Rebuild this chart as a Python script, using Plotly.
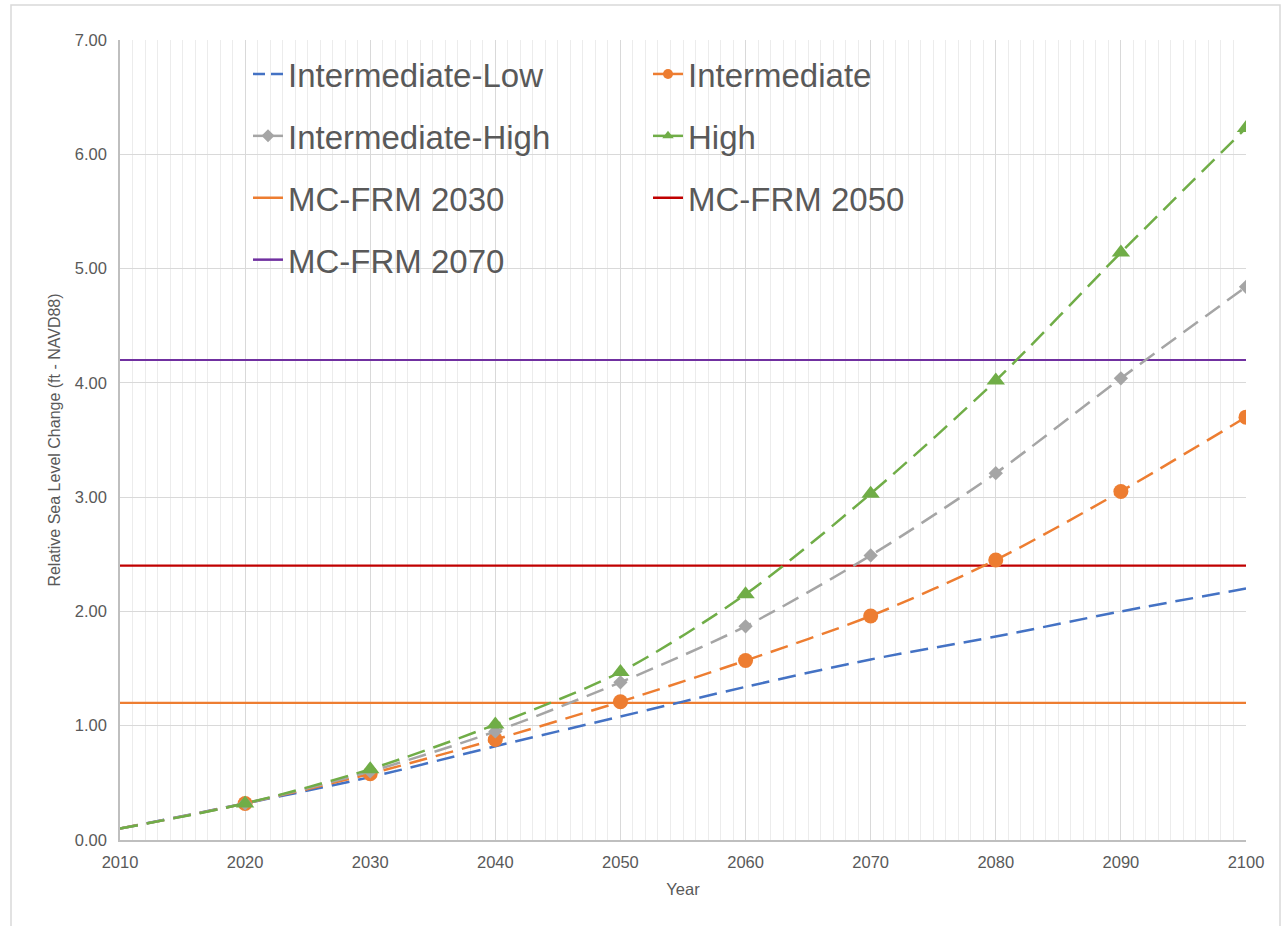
import plotly.graph_objects as go

years = [2010, 2020, 2030, 2040, 2050, 2060, 2070, 2080, 2090, 2100]
int_low = [0.10, 0.32, 0.55, 0.82, 1.08, 1.34, 1.58, 1.78, 2.00, 2.20]
intermediate = [0.10, 0.32, 0.58, 0.88, 1.21, 1.57, 1.96, 2.45, 3.05, 3.70]
int_high = [0.10, 0.32, 0.60, 0.95, 1.38, 1.87, 2.49, 3.21, 4.04, 4.84]
high = [0.10, 0.32, 0.62, 1.01, 1.47, 2.15, 3.03, 4.02, 5.14, 6.23]

mc_names = ["MC-FRM 2030", "MC-FRM 2050", "MC-FRM 2070"]
mc_levels = [1.2, 2.4, 4.2]
mc_span = [2010, 2100]

BLUE = "#4472C4"
ORANGE = "#ED7D31"
GRAY = "#A5A5A5"
GREEN = "#70AD47"
RED = "#C00000"
PURPLE = "#7030A0"
FONT = "Liberation Sans, Arial, sans-serif"
TXT = "#595959"
DASH = "18px,9px"

W, H = 1283, 926
L, R, T, B = 120, 37, 40, 86
PW, PH = W - L - R, H - T - B


def px_x(p):
    return (p - L) / PW


def px_y(p):
    return (H - B - p) / PH


fig = go.Figure()

# horizontal reference levels
mc_colors = [ORANGE, RED, PURPLE]
for name, lvl, col in zip(mc_names, mc_levels, mc_colors):
    fig.add_trace(go.Scatter(x=mc_span, y=[lvl, lvl], mode="lines",
                             line=dict(color=col, width=2.2),
                             showlegend=False, hoverinfo="skip"))


def msizes(s):
    return [0] + [s] * (len(years) - 1)


series = [
    ("Intermediate-Low", int_low, BLUE, None, 0),
    ("Intermediate", intermediate, ORANGE, "circle", 15),
    ("Intermediate-High", int_high, GRAY, "diamond", 11),
    ("High", high, GREEN, "triangle-up", 16),
]
for name, vals, col, sym, sz in series:
    if sym is None:
        fig.add_trace(go.Scatter(x=years, y=vals, mode="lines", name=name,
                                 line=dict(color=col, width=2.5, dash=DASH, shape="spline", smoothing=0.8),
                                 showlegend=False))
    else:
        fig.add_trace(go.Scatter(x=years, y=vals, mode="lines+markers", name=name,
                                 line=dict(color=col, width=2.5, dash=DASH, shape="spline", smoothing=0.8),
                                 marker=dict(symbol=sym, size=msizes(sz), color=col, opacity=1,
                                             line=dict(width=0)),
                                 showlegend=False))

# legend entries (two columns)
col1 = [("Intermediate-Low", BLUE, None, "dash"),
        ("Intermediate-High", GRAY, "diamond", "solid"),
        ("MC-FRM 2030", ORANGE, None, "solid"),
        ("MC-FRM 2070", PURPLE, None, "solid")]
col2 = [("Intermediate", ORANGE, "circle", "solid"),
        ("High", GREEN, "triangle-up", "solid"),
        ("MC-FRM 2050", RED, None, "solid")]
for lg, entries in (("legend", col1), ("legend2", col2)):
    for i, (name, col, sym, dash) in enumerate(entries):
        kw = dict(x=[None], y=[None], name=name, legend=lg, legendgroup=f"{lg}_{i}",
                  line=dict(color=col, width=2.5, dash=("12px,6px" if dash == "dash" else "solid")))
        if sym:
            fig.add_trace(go.Scatter(mode="lines+markers", marker=dict(symbol=sym, size=10, color=col), **kw))
        else:
            fig.add_trace(go.Scatter(mode="lines", **kw))

legend_common = dict(font=dict(family=FONT, size=33, color=TXT), bgcolor="rgba(0,0,0,0)",
                     orientation="v", xanchor="left", yanchor="top", tracegroupgap=16,
                     itemclick=False, itemdoubleclick=False)

fig.update_layout(
    width=W, height=H,
    margin=dict(l=L, r=R, t=T, b=B, autoexpand=False),
    paper_bgcolor="white", plot_bgcolor="white",
    font=dict(family=FONT, color=TXT, size=16),
    legend=dict(x=px_x(248), y=px_y(46), **legend_common),
    legend2=dict(x=px_x(648), y=px_y(46), **legend_common),
    xaxis=dict(range=[2010, 2100], dtick=10, tick0=2010, showgrid=True, gridcolor="#d9d9d9", gridwidth=1,
               minor=dict(dtick=1, showgrid=True, gridcolor="#ececec", gridwidth=1),
               showline=True, linecolor="#bfbfbf", linewidth=1.5, ticks="",
               ticklabelstandoff=6,
               tickfont=dict(size=16.5, color=TXT), zeroline=False,
               title=dict(text="Year", font=dict(size=16.5, color=TXT), standoff=14)),
    yaxis=dict(range=[0, 7], dtick=1, tickformat=".2f", showgrid=True, gridcolor="#d9d9d9", gridwidth=1,
               showline=True, linecolor="#bfbfbf", linewidth=1.5, ticks="",
               ticklabelstandoff=8,
               tickfont=dict(size=16.5, color=TXT), zeroline=False,
               title=dict(text="Relative Sea Level Change (ft - NAVD88)", font=dict(size=16, color=TXT),
                          standoff=10)),
    shapes=[dict(type="rect", xref="paper", yref="paper",
                 x0=px_x(11), x1=px_x(1280), y0=px_y(935), y1=px_y(5),
                 line=dict(color="#d9d9d9", width=1.5), fillcolor="rgba(0,0,0,0)", layer="below")],
)

fig.write_html("out.html")
